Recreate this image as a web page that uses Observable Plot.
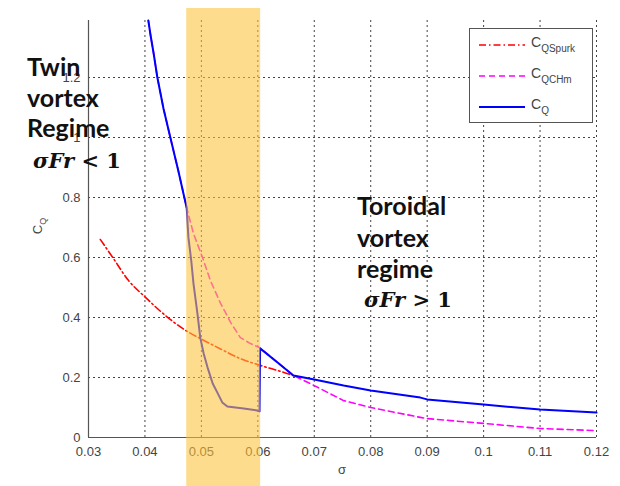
<!DOCTYPE html>
<html><head><meta charset="utf-8">
<script src="https://cdn.jsdelivr.net/npm/d3@7"></script>
<script src="https://cdn.jsdelivr.net/npm/@observablehq/plot@0.6"></script>
<style>
body{margin:0;background:#fff}
#chart{position:relative;width:620px;height:486px;overflow:hidden}
</style>
</head><body><div id="chart"></div>
<script>
// ---- data ----
const xTicks = [0.03,0.04,0.05,0.06,0.07,0.08,0.09,0.1,0.11,0.12];
const yTicks = [0,0.2,0.4,0.6,0.8,1,1.2];

const sigmaQ = [0.0406,0.041,0.0415,0.0422,0.0433,0.0445,0.0459,0.0474,0.0477,0.0482,0.0486,0.0493,0.0498,0.0504,0.0511,0.052,0.0529,0.0537,0.0546,0.0575,0.0599,0.0603,0.0604,0.0635,0.0663,0.07,0.0752,0.08,0.0888,0.09,0.1,0.11,0.12];
const valueQ = [1.39,1.34,1.285,1.2,1.095,1.0,0.89,0.765,0.667,0.59,0.513,0.413,0.333,0.28,0.233,0.18,0.147,0.117,0.103,0.097,0.09,0.087,0.297,0.25,0.207,0.193,0.173,0.157,0.133,0.127,0.11,0.093,0.083];

const sigmaCHm = [0.0406,0.041,0.0415,0.0422,0.0433,0.0445,0.0459,0.0474,0.0486,0.0502,0.0516,0.0534,0.0552,0.0569,0.0587,0.0603,0.0635,0.0663,0.07,0.0752,0.08,0.0888,0.09,0.1,0.11,0.12];
const valueCHm = [1.39,1.34,1.285,1.2,1.095,1.0,0.89,0.765,0.68,0.6,0.523,0.447,0.383,0.333,0.313,0.3,0.25,0.207,0.173,0.123,0.1,0.067,0.063,0.047,0.03,0.023];

const sigmaSpurk = [0.0321,0.0343,0.0371,0.0401,0.0436,0.0472,0.0498,0.0534,0.0569,0.0605,0.0646,0.0665];
const valueSpurk = [0.66,0.6,0.523,0.467,0.407,0.357,0.33,0.295,0.263,0.24,0.217,0.205];

const shadeBand = [0.0474, 0.0605];

const seriesNames = [["C","QSpurk"],["C","QCHm"],["C","Q"]];
const seriesColors = ["#ff0000","#ff00ff","#0000ff"];
const seriesDash = ["7,3,1.5,3","6,4",null];

const toRows = (xs, ys) => xs.map((x,i)=>({x, y: ys[i]}));
const rowsQ = toRows(sigmaQ, valueQ);
const rowsCHm = toRows(sigmaCHm, valueCHm);
const rowsSpurk = toRows(sigmaSpurk, valueSpurk);

const gridStyle = {stroke:"#444", strokeDasharray:"2,3", strokeWidth:1};

const plot = Plot.plot({
  width:620, height:486,
  marginLeft:88, marginRight:24, marginTop:20, marginBottom:49,
  style:{fontFamily:"'Liberation Sans', Arial, sans-serif", fontSize:"13px", color:"#444", background:"white", overflow:"visible"},
  x:{domain:[0.03,0.12]},
  y:{domain:[0,1.39]},
  marks:[
    Plot.ruleX(xTicks.slice(1), {...gridStyle}),
    Plot.ruleY(yTicks.slice(1), {...gridStyle}),
    Plot.axisX({ticks:xTicks, tickSize:0, tickPadding:9, tickFormat:d=>String(d), label:null, fontSize:13}),
    Plot.axisY({ticks:yTicks, tickSize:0, tickPadding:8, tickFormat:d=>String(d), label:null, fontSize:13}),
    Plot.ruleX([0.03], {stroke:"#555", strokeWidth:1.2}),
    Plot.ruleY([0], {stroke:"#555", strokeWidth:1.2}),
    Plot.line(rowsSpurk, {x:"x", y:"y", stroke:seriesColors[0], strokeWidth:1.6, strokeDasharray:seriesDash[0], curve:"monotone-x"}),
    Plot.line(rowsCHm, {x:"x", y:"y", stroke:seriesColors[1], strokeWidth:1.6, strokeDasharray:seriesDash[1]}),
    Plot.line(rowsQ, {x:"x", y:"y", stroke:seriesColors[2], strokeWidth:2}),
    Plot.rect([shadeBand], {x1:d=>d[0], x2:d=>d[1], y1:-0.17, y2:1.43, fill:"#fdc23a", fillOpacity:0.58})
  ]
});
document.getElementById("chart").appendChild(plot);

const svg = d3.select(plot);
const sans = "'Liberation Sans', Arial, sans-serif";

// y-axis label C_Q
const yl = svg.append("text")
  .attr("transform","translate(42,226) rotate(-90)")
  .attr("text-anchor","middle")
  .attr("fill","#444")
  .style("font-family",sans)
  .style("font-size","13px");
yl.append("tspan").text("C");
yl.append("tspan").attr("dy","4").style("font-size","9px").text("Q");

// x-axis label sigma
svg.append("text").attr("x",342).attr("y",474).attr("text-anchor","middle")
  .attr("fill","#444").style("font-family",sans)
  .style("font-size","13px").text("σ");

// legend
const lg = svg.append("g").attr("text-anchor","start");
lg.append("rect").attr("x",469.5).attr("y",28.5).attr("width",123).attr("height",94)
  .attr("fill","white").attr("stroke","#555").attr("stroke-width",1);
seriesNames.forEach((nm,i)=>{
  const yy = 45 + i*31;
  lg.append("line").attr("x1",479).attr("x2",525).attr("y1",yy).attr("y2",yy)
    .attr("stroke",seriesColors[i]).attr("stroke-width",i===2?2:1.6)
    .attr("stroke-dasharray",seriesDash[i]);
  const t = lg.append("text").attr("x",531).attr("y",yy+2).attr("fill","#444")
    .attr("text-anchor","start")
    .style("font-family",sans).style("font-size","14px");
  t.append("tspan").text(nm[0]);
  t.append("tspan").attr("dy","5").style("font-size","10px").text(nm[1]);
});

// annotations
function block(x, ys, lines, mathX, mathY, mathA, mathB){
  const g = svg.append("g").attr("text-anchor","start");
  lines.forEach((s,i)=>{
    g.append("text").attr("x",x).attr("y",ys[i]).attr("fill","#111")
      .attr("text-anchor","start")
      .style("font-family","Lato, 'Open Sans', sans-serif").style("font-weight","bold")
      .style("font-size","25px").text(s);
  });
  const m = g.append("text").attr("x",mathX).attr("y",mathY).attr("fill","#111")
    .attr("text-anchor","start")
    .style("font-family","'DejaVu Serif', serif").style("font-weight","bold").style("font-size","21px");
  m.append("tspan").style("font-style","italic").text(mathA);
  m.append("tspan").text(mathB);
}
block(27,[76,107,137],["Twin","vortex","Regime"],33,168,"σFr"," < 1");
block(357,[215,247,278],["Toroidal","vortex","regime"],364,307,"σFr"," > 1");
</script>
</body></html>
